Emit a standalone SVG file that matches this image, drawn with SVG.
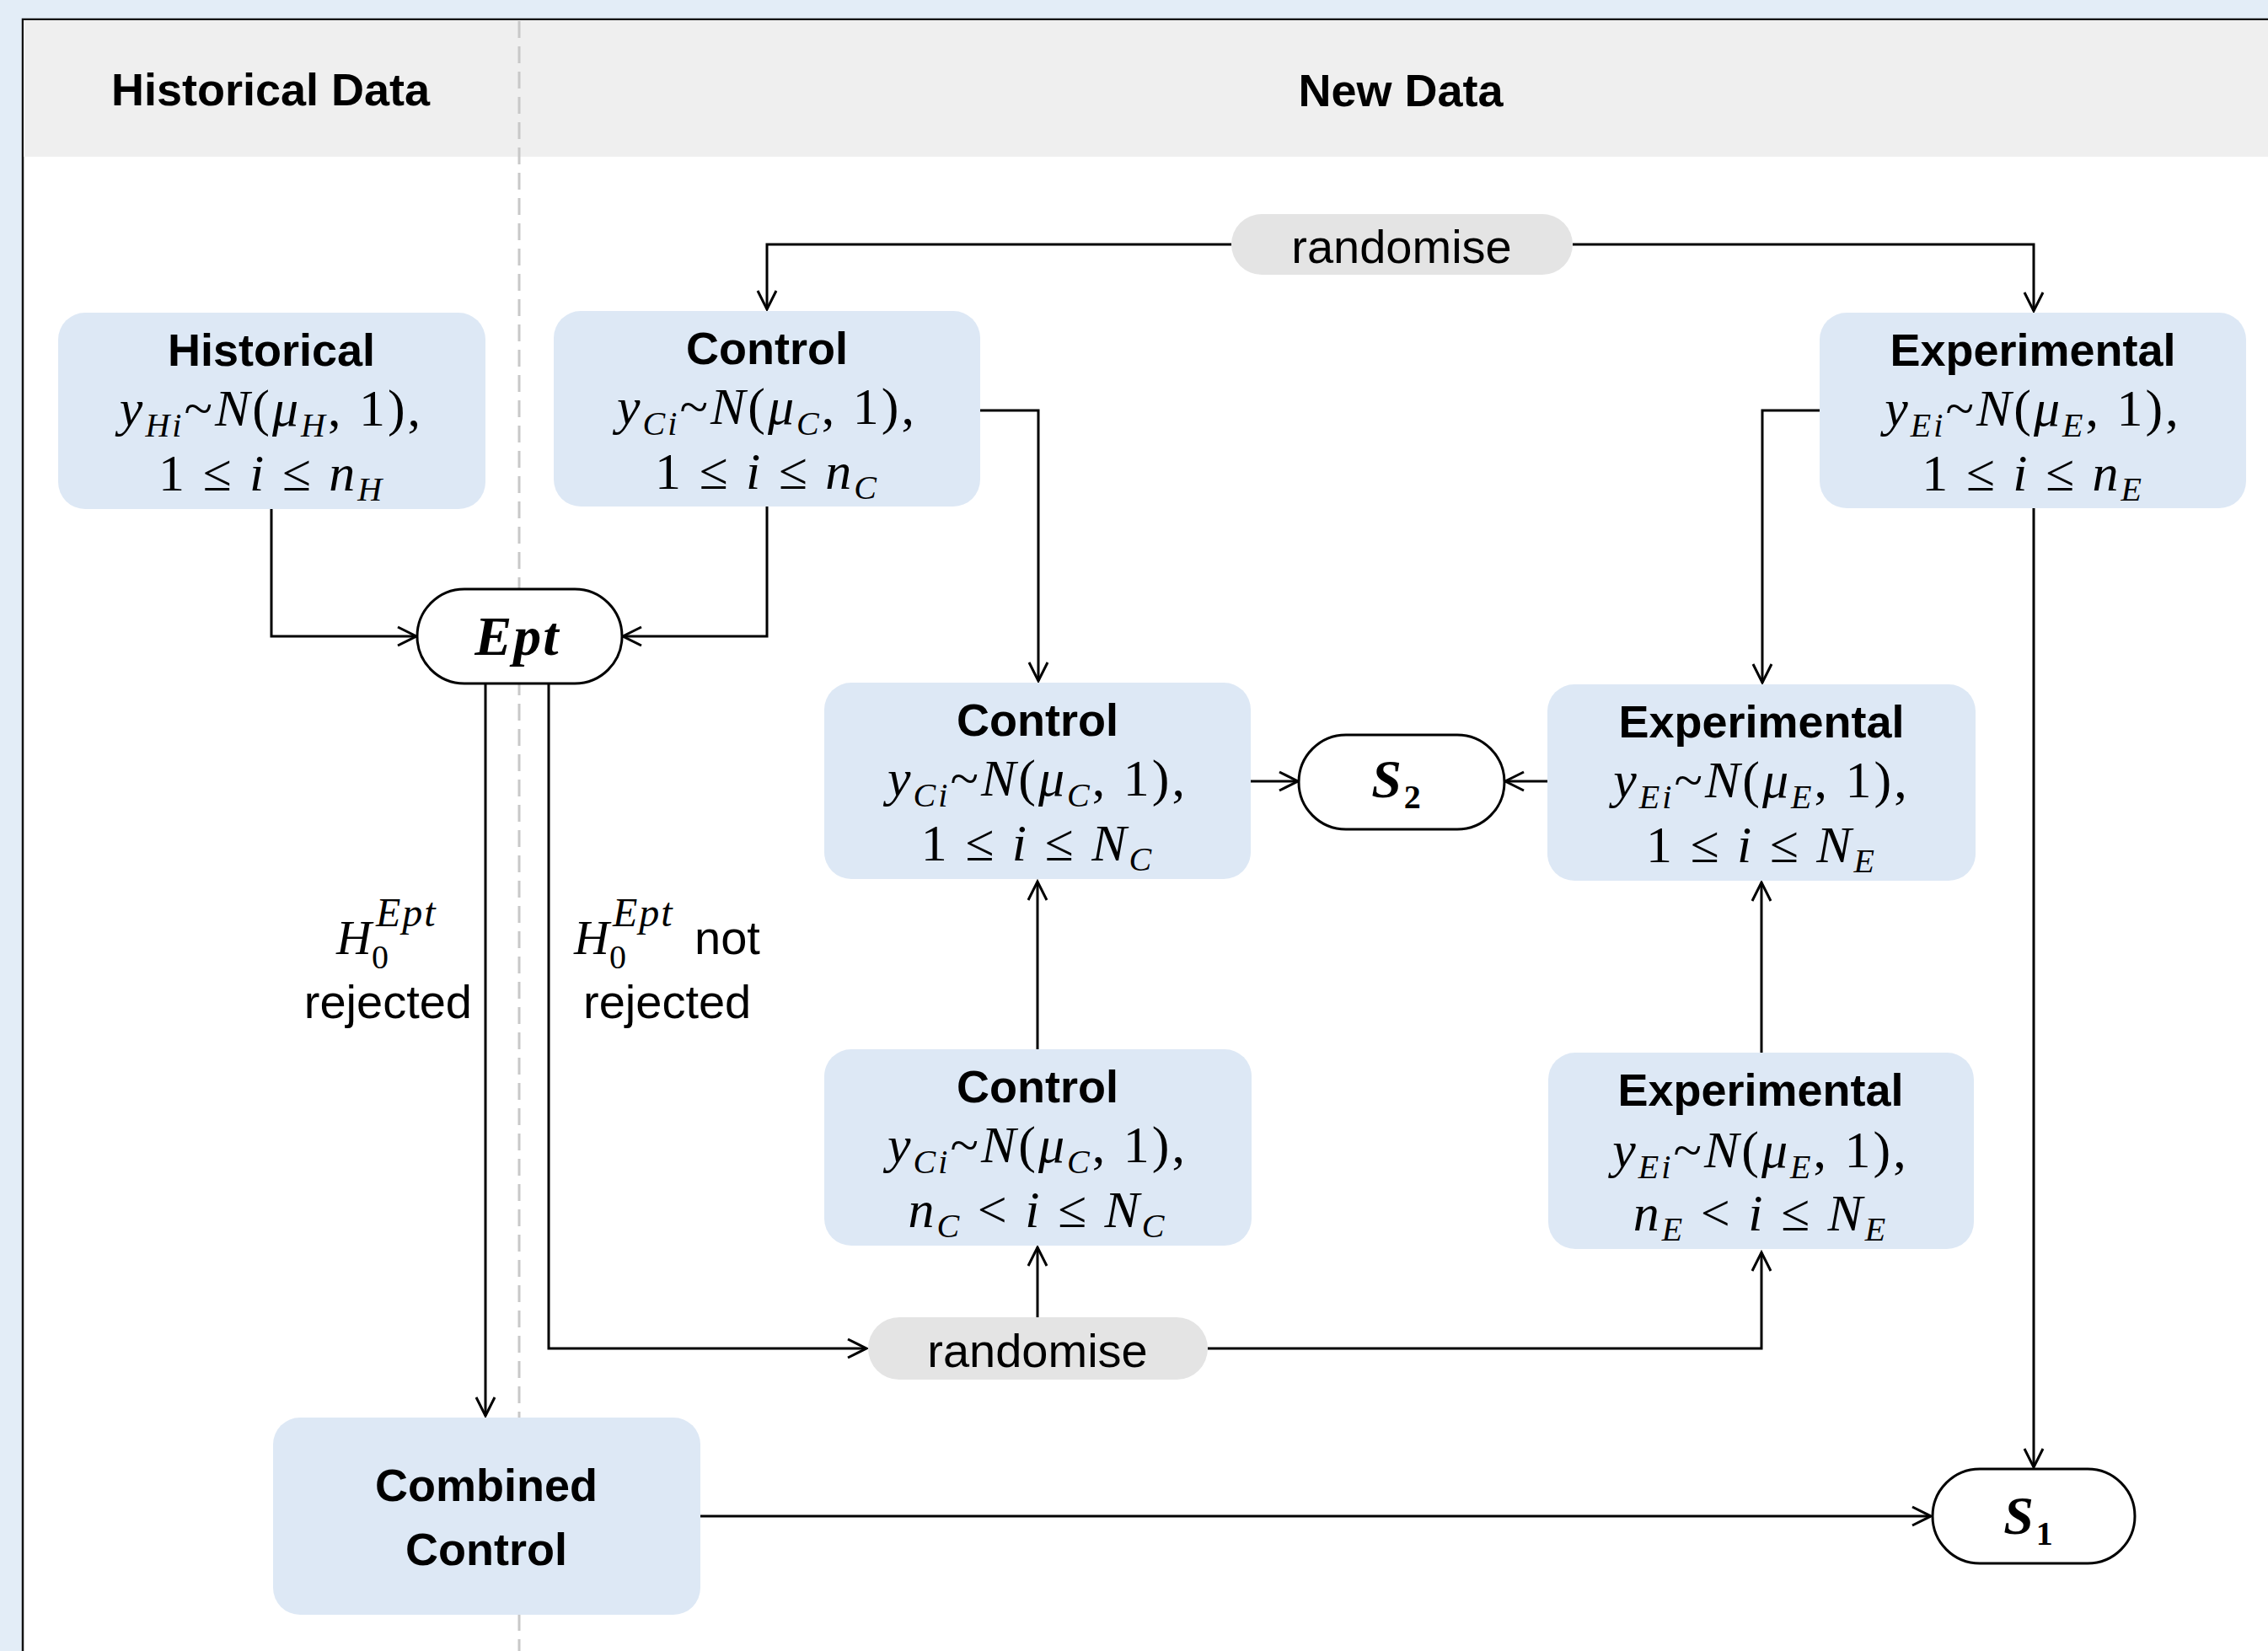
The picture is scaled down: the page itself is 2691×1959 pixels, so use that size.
<svg xmlns="http://www.w3.org/2000/svg" width="2691" height="1959" viewBox="0 0 2691 1959">
<style>
.t{font-family:"Liberation Sans",Arial,sans-serif;font-weight:bold;font-size:54px;text-anchor:middle;fill:#000}
.r{font-family:"Liberation Sans",Arial,sans-serif;font-size:56px;fill:#000}
.m{font-family:"Liberation Serif","Times New Roman",serif;font-size:62px;text-anchor:middle;letter-spacing:3px;fill:#000}
.i{font-style:italic}
.s{font-size:40px}
.b{font-weight:bold}
.box{fill:#dde8f5}
.pill{fill:#fff;stroke:#000;stroke-width:3}
.rnd{fill:#e4e4e4}
.c{fill:none;stroke:#000;stroke-width:3}
</style>
<defs>
<marker id="ah" viewBox="-26 -14 30 28" refX="0" refY="0" markerWidth="30" markerHeight="28" orient="auto" markerUnits="userSpaceOnUse">
<path d="M-22,-11 L0,0 L-22,11" fill="none" stroke="#000" stroke-width="3"/>
</marker>
</defs>
<rect x="0" y="0" width="2691" height="1959" fill="#e3edf7"/>
<rect x="27" y="23" width="2700" height="2000" fill="#fff" stroke="#111" stroke-width="2.5"/>
<rect x="28" y="24" width="2663" height="162" fill="#efefef"/>
<line x1="616" y1="25" x2="616" y2="1959" stroke="#c8c8c8" stroke-width="3" stroke-dasharray="20 10"/>
<text class="t" x="321" y="125">Historical Data</text>
<text class="t" x="1662" y="126">New Data</text>

<g id="connectors">
<path class="c" d="M1461 290 H910 V367" marker-end="url(#ah)"/>
<path class="c" d="M1866 290 H2413 V369" marker-end="url(#ah)"/>
<path class="c" d="M322 604 V755 H494" marker-end="url(#ah)"/>
<path class="c" d="M910 601 V755 H739" marker-end="url(#ah)"/>
<path class="c" d="M1163 487 H1232 V808" marker-end="url(#ah)"/>
<path class="c" d="M2159 487 H2091 V810" marker-end="url(#ah)"/>
<path class="c" d="M2413 603 V1741" marker-end="url(#ah)"/>
<path class="c" d="M1484 927 H1540" marker-end="url(#ah)"/>
<path class="c" d="M1836 927 H1786" marker-end="url(#ah)"/>
<path class="c" d="M1231 1245 V1046" marker-end="url(#ah)"/>
<path class="c" d="M2090 1249 V1047" marker-end="url(#ah)"/>
<path class="c" d="M576 811 V1680" marker-end="url(#ah)"/>
<path class="c" d="M651 811 V1600 H1028" marker-end="url(#ah)"/>
<path class="c" d="M1231 1563 V1480" marker-end="url(#ah)"/>
<path class="c" d="M1433 1600 H2090 V1486" marker-end="url(#ah)"/>
<path class="c" d="M831 1799 H2291" marker-end="url(#ah)"/>
</g>

<g id="historical">
<rect class="box" x="69" y="371" width="507" height="233" rx="32"/>
<text class="t" x="322" y="434">Historical</text>
<text class="m" x="322" y="505"><tspan class="i">y</tspan><tspan class="i s" dy="13">Hi</tspan><tspan dy="-13">~</tspan><tspan class="i">N</tspan>(<tspan class="i">μ</tspan><tspan class="i s" dy="13">H</tspan><tspan dy="-13">, 1),</tspan></text>
<text class="m" x="322" y="582">1 ≤ <tspan class="i">i</tspan> ≤ <tspan class="i">n</tspan><tspan class="i s" dy="12">H</tspan></text>
</g>

<g id="control-top">
<rect class="box" x="657" y="369" width="506" height="232" rx="32"/>
<text class="t" x="910" y="432">Control</text>
<text class="m" x="910" y="503"><tspan class="i">y</tspan><tspan class="i s" dy="13">Ci</tspan><tspan dy="-13">~</tspan><tspan class="i">N</tspan>(<tspan class="i">μ</tspan><tspan class="i s" dy="13">C</tspan><tspan dy="-13">, 1),</tspan></text>
<text class="m" x="910" y="580">1 ≤ <tspan class="i">i</tspan> ≤ <tspan class="i">n</tspan><tspan class="i s" dy="12">C</tspan></text>
</g>

<g id="experimental-top">
<rect class="box" x="2159" y="371" width="506" height="232" rx="32"/>
<text class="t" x="2412" y="434">Experimental</text>
<text class="m" x="2412" y="505"><tspan class="i">y</tspan><tspan class="i s" dy="13">Ei</tspan><tspan dy="-13">~</tspan><tspan class="i">N</tspan>(<tspan class="i">μ</tspan><tspan class="i s" dy="13">E</tspan><tspan dy="-13">, 1),</tspan></text>
<text class="m" x="2412" y="582">1 ≤ <tspan class="i">i</tspan> ≤ <tspan class="i">n</tspan><tspan class="i s" dy="12">E</tspan></text>
</g>

<g id="randomise-top">
<rect class="rnd" x="1461" y="254" width="405" height="72" rx="36"/>
<text class="r" x="1663" y="312" text-anchor="middle">randomise</text>
</g>

<g id="ept">
<rect class="pill" x="495" y="699" width="243" height="112" rx="56"/>
<text class="m b i" x="614" y="777" style="font-size:66px;letter-spacing:2px">Ept</text>
</g>

<g id="control-mid">
<rect class="box" x="978" y="810" width="506" height="233" rx="32"/>
<text class="t" x="1231" y="873">Control</text>
<text class="m" x="1231" y="944"><tspan class="i">y</tspan><tspan class="i s" dy="13">Ci</tspan><tspan dy="-13">~</tspan><tspan class="i">N</tspan>(<tspan class="i">μ</tspan><tspan class="i s" dy="13">C</tspan><tspan dy="-13">, 1),</tspan></text>
<text class="m" x="1231" y="1021">1 ≤ <tspan class="i">i</tspan> ≤ <tspan class="i">N</tspan><tspan class="i s" dy="12">C</tspan></text>
</g>

<g id="s2">
<rect class="pill" x="1541" y="872" width="244" height="112" rx="56"/>
<text class="m b" x="1658" y="946" style="font-size:64px"><tspan class="i">S</tspan><tspan class="s" dy="13">2</tspan></text>
</g>

<g id="experimental-mid">
<rect class="box" x="1836" y="812" width="508" height="233" rx="32"/>
<text class="t" x="2090" y="875">Experimental</text>
<text class="m" x="2090" y="946"><tspan class="i">y</tspan><tspan class="i s" dy="13">Ei</tspan><tspan dy="-13">~</tspan><tspan class="i">N</tspan>(<tspan class="i">μ</tspan><tspan class="i s" dy="13">E</tspan><tspan dy="-13">, 1),</tspan></text>
<text class="m" x="2090" y="1023">1 ≤ <tspan class="i">i</tspan> ≤ <tspan class="i">N</tspan><tspan class="i s" dy="12">E</tspan></text>
</g>

<g id="control-bottom">
<rect class="box" x="978" y="1245" width="507" height="233" rx="32"/>
<text class="t" x="1231" y="1308">Control</text>
<text class="m" x="1231" y="1379"><tspan class="i">y</tspan><tspan class="i s" dy="13">Ci</tspan><tspan dy="-13">~</tspan><tspan class="i">N</tspan>(<tspan class="i">μ</tspan><tspan class="i s" dy="13">C</tspan><tspan dy="-13">, 1),</tspan></text>
<text class="m" x="1231" y="1456"><tspan class="i">n</tspan><tspan class="i s" dy="12">C</tspan><tspan dy="-12"> &lt; </tspan><tspan class="i">i</tspan> ≤ <tspan class="i">N</tspan><tspan class="i s" dy="12">C</tspan></text>
</g>

<g id="experimental-bottom">
<rect class="box" x="1837" y="1249" width="505" height="233" rx="32"/>
<text class="t" x="2089" y="1312">Experimental</text>
<text class="m" x="2089" y="1385"><tspan class="i">y</tspan><tspan class="i s" dy="13">Ei</tspan><tspan dy="-13">~</tspan><tspan class="i">N</tspan>(<tspan class="i">μ</tspan><tspan class="i s" dy="13">E</tspan><tspan dy="-13">, 1),</tspan></text>
<text class="m" x="2089" y="1460"><tspan class="i">n</tspan><tspan class="i s" dy="12">E</tspan><tspan dy="-12"> &lt; </tspan><tspan class="i">i</tspan> ≤ <tspan class="i">N</tspan><tspan class="i s" dy="12">E</tspan></text>
</g>

<g id="randomise-bottom">
<rect class="rnd" x="1030" y="1563" width="403" height="74" rx="37"/>
<text class="r" x="1231" y="1622" text-anchor="middle">randomise</text>
</g>

<g id="combined-control">
<rect class="box" x="324" y="1682" width="507" height="234" rx="32"/>
<text class="t" x="577" y="1781">Combined</text>
<text class="t" x="577" y="1857">Control</text>
</g>

<g id="s1">
<rect class="pill" x="2293" y="1743" width="240" height="112" rx="56"/>
<text class="m b" x="2408" y="1820" style="font-size:64px"><tspan class="i">S</tspan><tspan class="s" dy="13">1</tspan></text>
</g>

<g id="label-rejected">
<text class="m" style="text-anchor:start;letter-spacing:0" x="399" y="1132"><tspan class="i" style="font-size:58px">H</tspan><tspan class="i" style="font-size:48px;letter-spacing:2px" x="446" y="1099">Ept</tspan><tspan class="s" x="441" y="1149">0</tspan></text>
<text class="r" x="560" y="1208" text-anchor="end">rejected</text>
</g>

<g id="label-not-rejected">
<text class="m" style="text-anchor:start;letter-spacing:0" x="681" y="1132"><tspan class="i" style="font-size:58px">H</tspan><tspan class="i" style="font-size:48px;letter-spacing:2px" x="727" y="1099">Ept</tspan><tspan class="s" x="723" y="1149">0</tspan><tspan class="r" x="824" y="1132">not</tspan></text>
<text class="r" x="692" y="1208">rejected</text>
</g>
</svg>
